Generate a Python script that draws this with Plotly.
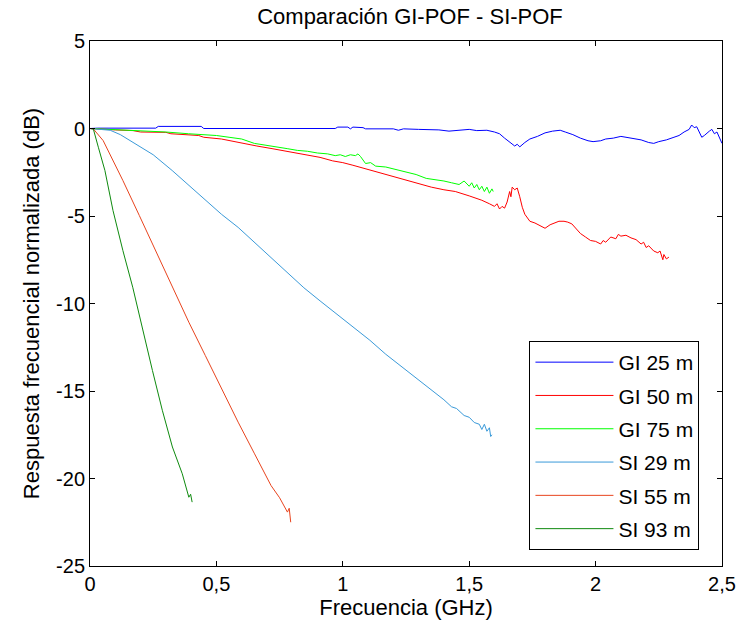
import plotly.graph_objects as go

# ---------------- data ----------------
gi25_x = [0, 0.03, 0.26, 0.27, 0.44, 0.45, 0.97, 0.98, 1.02, 1.03, 1.04, 1.08, 1.09, 1.2, 1.22, 1.24,
          1.3, 1.38, 1.42, 1.46, 1.5, 1.53, 1.57, 1.6, 1.62, 1.64, 1.66, 1.68, 1.69, 1.70, 1.72, 1.74,
          1.77, 1.80, 1.83, 1.86, 1.88, 1.91, 1.94, 1.97, 1.99, 2.02, 2.04, 2.07, 2.10, 2.12, 2.15,
          2.18, 2.21, 2.23, 2.25, 2.28, 2.31, 2.33, 2.35, 2.37, 2.38, 2.39, 2.40, 2.41, 2.42, 2.43,
          2.44, 2.45, 2.46, 2.47, 2.48, 2.49, 2.5]
gi25_y = [0, 0.02, 0.02, 0.12, 0.12, 0.0, 0.0, 0.08, 0.08, -0.02, 0.08, 0.05, -0.02, -0.02, -0.1, -0.02,
          -0.05, -0.08, -0.15, -0.12, -0.05, -0.12, -0.1, -0.2, -0.3, -0.55, -0.8, -1.0, -0.9, -1.05, -0.8, -0.6,
          -0.45, -0.25, -0.15, -0.1, -0.2, -0.35, -0.55, -0.7, -0.75, -0.7, -0.6, -0.55, -0.45, -0.5, -0.55,
          -0.65, -0.8, -0.85, -0.75, -0.65, -0.5, -0.4, -0.2, -0.05, 0.2, 0.05, 0.1, -0.2, -0.5, -0.4,
          -0.25, -0.15, -0.05, -0.3, -0.2, -0.55, -0.85]

gi50_x = [0, 0.05, 0.1, 0.17, 0.2, 0.3, 0.32, 0.43, 0.45, 0.52, 0.6, 0.66, 0.72, 0.8, 0.85, 0.91, 0.96,
          1.0, 1.04, 1.1, 1.17, 1.23, 1.29, 1.35, 1.40, 1.445, 1.5, 1.55, 1.58, 1.60, 1.61, 1.62, 1.63,
          1.64, 1.65, 1.66, 1.665, 1.67, 1.68, 1.69, 1.70, 1.71, 1.72, 1.73, 1.74, 1.76, 1.785, 1.80,
          1.82, 1.836, 1.855, 1.875, 1.89, 1.906, 1.92, 1.94, 1.96, 1.98, 2.0, 2.02, 2.03, 2.04, 2.06,
          2.08, 2.09, 2.10, 2.12, 2.14, 2.16, 2.18, 2.19, 2.20, 2.21, 2.23, 2.246, 2.255, 2.266, 2.27,
          2.28, 2.29]
gi50_y = [0, -0.05, -0.08, -0.12, -0.2, -0.22, -0.3, -0.4, -0.5, -0.6, -0.85, -1.0, -1.15, -1.35, -1.5,
          -1.65, -1.85, -1.95, -2.1, -2.35, -2.6, -2.85, -3.1, -3.35, -3.5, -3.6, -3.85, -4.1, -4.3, -4.45,
          -4.3, -4.6, -4.45, -4.55, -4.2, -3.6, -3.9, -3.35, -3.5, -3.4, -3.9, -4.5, -4.9, -5.1, -5.3, -5.4,
          -5.6, -5.7, -5.5, -5.4, -5.3, -5.3, -5.35, -5.45, -5.7, -6.0, -6.2, -6.4, -6.45, -6.6, -6.4,
          -6.5, -6.2, -6.3, -6.05, -6.15, -6.1, -6.25, -6.35, -6.6, -6.5, -6.8, -6.7, -7.0, -7.1, -7.0,
          -7.5, -7.2, -7.45, -7.35]

gi75_x = [0, 0.05, 0.1, 0.2, 0.26, 0.3, 0.39, 0.45, 0.5, 0.55, 0.6, 0.65, 0.7, 0.74, 0.78, 0.82, 0.86,
          0.9, 0.94, 0.97, 0.99, 1.01, 1.03, 1.05, 1.06, 1.07, 1.08, 1.09, 1.11, 1.13, 1.17, 1.2, 1.24,
          1.29, 1.33, 1.36, 1.40, 1.43, 1.46, 1.48, 1.50, 1.51, 1.52, 1.53, 1.54, 1.55, 1.56, 1.57, 1.58,
          1.59, 1.595]
gi75_y = [0, -0.03, -0.05, -0.1, -0.17, -0.2, -0.3, -0.35, -0.4, -0.5, -0.6, -0.85, -0.95, -1.05, -1.15,
          -1.25, -1.3, -1.4, -1.45, -1.55, -1.5, -1.6, -1.5, -1.55, -1.45, -1.6, -1.8, -2.0, -1.95, -2.15,
          -2.2, -2.3, -2.45, -2.63, -2.85, -2.9, -3.0, -3.1, -3.2, -3.0, -3.3, -3.1, -3.4, -3.2, -3.5, -3.3,
          -3.6, -3.35, -3.7, -3.45, -3.6]

si29_x = [0, 0.04, 0.08, 0.12, 0.16, 0.195, 0.25, 0.325, 0.39, 0.456, 0.52, 0.586, 0.65, 0.716, 0.78,
          0.846, 0.91, 0.977, 1.04, 1.107, 1.17, 1.237, 1.30, 1.367, 1.40, 1.43, 1.45, 1.48, 1.50, 1.52,
          1.54, 1.55, 1.56, 1.57, 1.58, 1.585, 1.59]
si29_y = [0, -0.03, -0.1, -0.35, -0.7, -1.0, -1.5, -2.4, -3.25, -4.1, -4.9, -5.65, -6.5, -7.4, -8.25,
          -9.1, -9.85, -10.6, -11.35, -12.1, -12.9, -13.65, -14.4, -15.15, -15.5, -15.9, -16.0, -16.4,
          -16.5, -16.8, -16.9, -17.2, -16.9, -17.3, -17.1, -17.6, -17.5]

si55_x = [0, 0.013, 0.052, 0.091, 0.130, 0.195, 0.260, 0.326, 0.391, 0.456, 0.521, 0.586, 0.651,
          0.716, 0.75, 0.781, 0.788, 0.794]
si55_y = [0, -0.02, -0.69, -1.83, -2.97, -4.97, -6.97, -9.07, -11.07, -12.97, -14.88, -16.78, -18.59,
          -20.4, -21.1, -21.92, -21.7, -22.5]

si93_x = [0, 0.013, 0.033, 0.059, 0.091, 0.130, 0.169, 0.208, 0.247, 0.286, 0.326, 0.365, 0.391,
          0.398, 0.404]
si93_y = [0, -0.02, -1.07, -2.4, -4.69, -6.97, -9.07, -11.54, -13.83, -16.1, -18.2, -19.73, -21.07,
          -20.9, -21.35]

x_ticks = [0, 0.5, 1, 1.5, 2, 2.5]
x_tick_labels = ["0", "0,5", "1", "1,5", "2", "2,5"]
y_ticks = [-25, -20, -15, -10, -5, 0, 5]
y_tick_labels = ["-25", "-20", "-15", "-10", "-5", "0", "5"]

series = [
    ("GI 25 m", gi25_x, gi25_y, "#0000FF"),
    ("GI 50 m", gi50_x, gi50_y, "#FF0000"),
    ("GI 75 m", gi75_x, gi75_y, "#00FF00"),
    ("SI 29 m", si29_x, si29_y, "#3A9AD9"),
    ("SI 55 m", si55_x, si55_y, "#E8441E"),
    ("SI 93 m", si93_x, si93_y, "#0E8A0E"),
]

FONT = "Liberation Sans, Arial, sans-serif"

fig = go.Figure()
for i, (name, xs, ys, col) in enumerate(series):
    fig.add_trace(go.Scatter(x=xs, y=ys, mode="lines", name=name,
                             line=dict(color=col, width=1),
                             legendgroup=f"g{i}"))

axis_common = dict(showgrid=False, zeroline=False, showline=True, linecolor="black",
                   linewidth=1, mirror="ticks", ticks="inside", ticklen=5,
                   tickcolor="black", tickfont=dict(family=FONT, size=20, color="black"))

fig.update_layout(
    width=748, height=631,
    paper_bgcolor="white", plot_bgcolor="white",
    margin=dict(l=90, r=18, t=41, b=65),
    font=dict(family=FONT, color="black"),
    title=dict(text="Comparación GI-POF - SI-POF", x=(90 + 320) / 748, xanchor="center",
               y=1 - 16 / 631, yanchor="middle", font=dict(family=FONT, size=22, color="black")),
    xaxis=dict(range=[0, 2.5], tickvals=x_ticks, ticktext=x_tick_labels,
               title=dict(text="Frecuencia (GHz)", font=dict(family=FONT, size=22, color="black"),
                          standoff=2),
               **axis_common),
    yaxis=dict(range=[-25, 5], tickvals=y_ticks, ticktext=y_tick_labels,
               title=dict(text="Respuesta frecuencial normalizada (dB)",
                          font=dict(family=FONT, size=22, color="black"), standoff=10),
               **axis_common),
    legend=dict(x=(535 - 90) / 640, y=(566 - 341) / 525, xanchor="left", yanchor="top",
                bgcolor="white", bordercolor="black", borderwidth=1,
                font=dict(family=FONT, size=21, color="black"),
                traceorder="grouped", tracegroupgap=3, itemwidth=78),
    showlegend=True,
)

fig.write_html("out.html")
